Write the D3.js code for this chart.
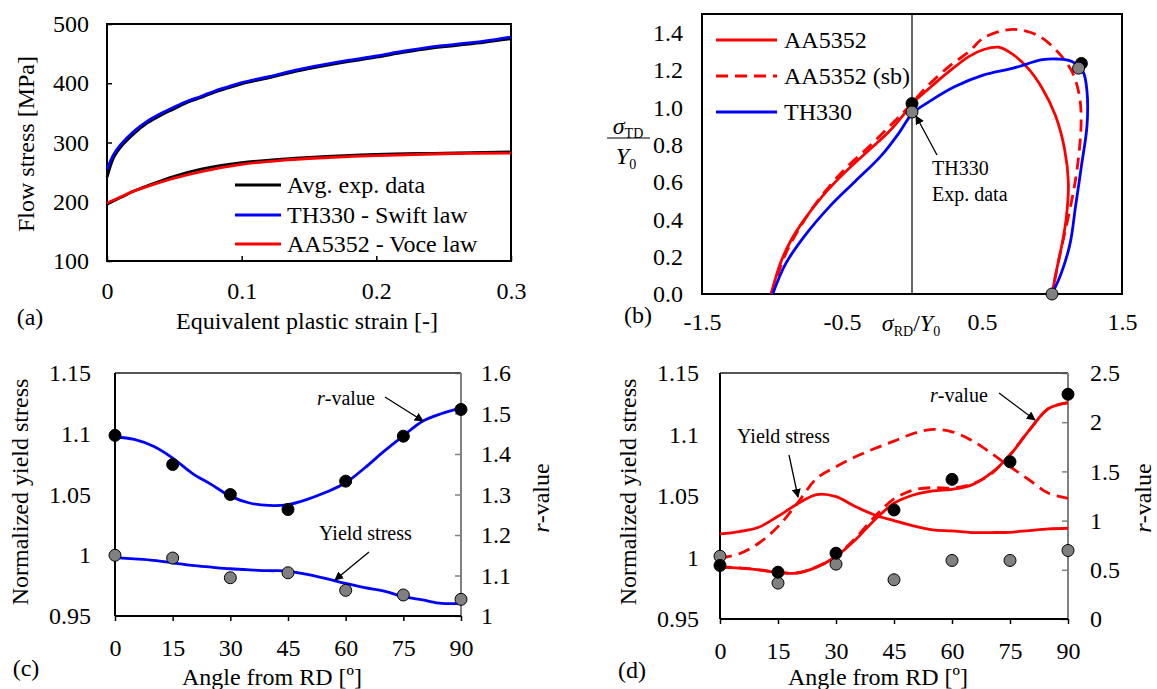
<!DOCTYPE html>
<html>
<head>
<meta charset="utf-8">
<script src="https://cdn.jsdelivr.net/npm/d3@7"></script>
<style>
  body { margin: 0; background: #fff; }
  svg text { font-family: "Liberation Serif", "Times New Roman", serif; fill: #000; }
</style>
</head>
<body>
<svg id="fig" width="1157" height="689"></svg>
<script>
// ---- panel (a): flow curves [strain, MPa]
const th330Exp = [[0, 241], [0.005, 275], [0.01, 292], [0.02, 315], [0.03, 333], [0.04, 346], [0.05, 357], [0.06, 368], [0.07, 376], [0.08, 385], [0.09, 392], [0.1, 399], [0.12, 409], [0.14, 420], [0.16, 429], [0.18, 437], [0.2, 444], [0.22, 452], [0.24, 459], [0.26, 464], [0.28, 469], [0.3, 475]];
const th330Swift = [[0, 255], [0.005, 280], [0.01, 296], [0.02, 319], [0.03, 336], [0.04, 349], [0.05, 360], [0.06, 370], [0.07, 378], [0.08, 387], [0.09, 394], [0.1, 401], [0.12, 411], [0.14, 422], [0.16, 431], [0.18, 439], [0.2, 446], [0.22, 454], [0.24, 461], [0.26, 466], [0.28, 471], [0.3, 478]];
const aa5352Exp = [[0, 196], [0.01, 207], [0.02, 218], [0.03, 227], [0.05, 243], [0.07, 255], [0.1, 266], [0.13, 272], [0.15, 275], [0.2, 280], [0.25, 282], [0.3, 284]];
const aa5352Voce = [[0, 198], [0.01, 208], [0.02, 218], [0.03, 226], [0.05, 240], [0.07, 251], [0.1, 263], [0.13, 270], [0.15, 273], [0.2, 278], [0.25, 281], [0.3, 282]];
const legendA = ['Avg. exp. data', 'TH330 - Swift law', 'AA5352 - Voce law'];

// ---- panel (b): yield loci [sigma_RD/Y0, sigma_TD/Y0]
const locusAA = [[-1.006, 0], [-0.942, 0.161], [-0.864, 0.288], [-0.772, 0.396], [-0.641, 0.523], [-0.483, 0.649], [-0.326, 0.758], [-0.169, 0.866], [-0.064, 0.957], [0.001, 1.02], [0.12, 1.10], [0.25, 1.183], [0.408, 1.273], [0.513, 1.31], [0.618, 1.322], [0.723, 1.282], [0.828, 1.21], [0.932, 1.10], [1.024, 0.957], [1.09, 0.776], [1.117, 0.595], [1.103, 0.414], [1.077, 0.288], [1.037, 0.143], [1.0, 0]];
const locusAAsb = [[-1.006, 0], [-0.903, 0.215], [-0.798, 0.36], [-0.667, 0.505], [-0.483, 0.667], [-0.3, 0.794], [-0.142, 0.912], [-0.024, 1.002], [0.093, 1.101], [0.25, 1.21], [0.408, 1.30], [0.513, 1.373], [0.67, 1.414], [0.776, 1.414], [0.907, 1.382], [1.037, 1.30], [1.142, 1.192], [1.195, 1.065], [1.208, 0.92], [1.182, 0.685], [1.142, 0.505], [1.09, 0.324], [1.037, 0.143], [1.0, 0]];
const locusTH = [[-0.995, 0], [-0.903, 0.161], [-0.772, 0.306], [-0.589, 0.468], [-0.405, 0.604], [-0.221, 0.74], [-0.09, 0.866], [0.001, 0.966], [0.12, 1.029], [0.303, 1.11], [0.513, 1.174], [0.723, 1.21], [0.932, 1.255], [1.037, 1.259], [1.142, 1.246], [1.221, 1.192], [1.25, 1.084], [1.25, 0.902], [1.21, 0.685], [1.168, 0.468], [1.129, 0.27], [1.064, 0.107], [1.0, 0]];
const expBlack = [[0, 1.02], [1.21, 1.235]];
const expGray = [[0, 0.975], [1.19, 1.21], [1.0, 0]];
const legendB = ['AA5352', 'AA5352 (sb)', 'TH330'];

// ---- panels (c) and (d): directional properties
const angles = [0, 15, 30, 45, 60, 75, 90];
const curveAngles = [0, 5, 10, 15, 20, 25, 30, 35, 40, 45, 50, 55, 60, 65, 70, 75, 80, 85, 90];
const angleTicks = [0, 15, 30, 45, 60, 75, 90];

const cRExp = [1.446, 1.374, 1.30, 1.263, 1.333, 1.444, 1.51];
const cYExp = [1.0, 0.9977, 0.9815, 0.9856, 0.9711, 0.9673, 0.9637];
const cRCurve = [1.442, 1.436, 1.419, 1.39, 1.353, 1.325, 1.296, 1.279, 1.273, 1.275, 1.288, 1.306, 1.329, 1.366, 1.407, 1.445, 1.481, 1.50, 1.514];
const cYCurve = [0.998, 0.997, 0.9958, 0.9938, 0.9916, 0.9902, 0.9889, 0.988, 0.9873, 0.987, 0.9842, 0.9807, 0.9768, 0.9733, 0.9705, 0.9659, 0.9632, 0.9604, 0.9604];

const dRExp = [0.544, 0.476, 0.669, 1.108, 1.419, 1.598, 2.284];
const dYExp = [1.001, 0.9792, 0.9946, 0.9819, 0.9976, 0.9976, 1.0057];
const dYCurve = [1.0192, 1.0211, 1.0246, 1.0335, 1.0435, 1.0512, 1.0495, 1.0414, 1.0346, 1.030, 1.0257, 1.0224, 1.0216, 1.0203, 1.0203, 1.0205, 1.0219, 1.0232, 1.0238];
const dYCurveSb = [0.9995, 1.003, 1.0116, 1.0251, 1.044, 1.0643, 1.0738, 1.0819, 1.0886, 1.0946, 1.1008, 1.1041, 1.1022, 1.0954, 1.0851, 1.0738, 1.063, 1.0522, 1.0481];
const dRCurve = [0.527, 0.517, 0.50, 0.473, 0.466, 0.527, 0.635, 0.804, 1.007, 1.176, 1.26, 1.301, 1.318, 1.361, 1.48, 1.666, 1.919, 2.139, 2.196];
const dRCurveSb = [0.53, 0.52, 0.50, 0.475, 0.47, 0.53, 0.64, 0.82, 1.04, 1.22, 1.31, 1.335, 1.33, 1.37, 1.47, 1.67, 1.92, 2.14, 2.20];

const FS = 24;
const BLUE = '#0000ff', RED = '#ff0000', GRAY = '#808080';

const svg = d3.select('#fig');
svg.append('defs').append('marker')
    .attr('id', 'arrow')
    .attr('viewBox', '0 0 10 10')
    .attr('refX', 9).attr('refY', 5)
    .attr('markerWidth', 9).attr('markerHeight', 9)
    .attr('markerUnits', 'userSpaceOnUse')
    .attr('orient', 'auto')
    .append('path').attr('d', 'M0,0 L10,5 L0,10 z').attr('fill', '#000');

const styleAxis = (g, col) => {
    g.select('.domain').remove();
    g.selectAll('text').attr('font-size', FS).attr('fill', '#000');
    g.selectAll('line').attr('stroke', col || '#000').attr('stroke-width', 1.5);
};

const text = (x, y, str, size, anchor) => svg.append('text')
    .attr('x', x).attr('y', y)
    .attr('font-size', size || FS)
    .attr('text-anchor', anchor || 'middle')
    .attr('dominant-baseline', 'central')
    .text(str);

const vtitle = (x, y) => svg.append('text')
    .attr('transform', `translate(${x},${y}) rotate(-90)`)
    .attr('font-size', FS)
    .attr('text-anchor', 'middle')
    .attr('dominant-baseline', 'central');

const arrow = (x1, y1, x2, y2) => svg.append('line')
    .attr('x1', x1).attr('y1', y1).attr('x2', x2).attr('y2', y2)
    .attr('stroke', '#000').attr('stroke-width', 1.3)
    .attr('marker-end', 'url(#arrow)');

const drawLine = (data, x, y, col, dash) => svg.append('path')
    .datum(data)
    .attr('fill', 'none')
    .attr('stroke', col)
    .attr('stroke-width', 2.8)
    .attr('stroke-dasharray', dash || null)
    .attr('d', d3.line().x(d => x(d[0])).y(d => y(d[1])).curve(d3.curveCatmullRom));

const drawDots = (data, x, y, fill) => svg.append('g')
    .selectAll('circle').data(data).join('circle')
    .attr('cx', d => x(d[0])).attr('cy', d => y(d[1]))
    .attr('r', 6)
    .attr('fill', fill).attr('stroke', '#000').attr('stroke-width', 1);

// ================= (a)
const xA = d3.scaleLinear().domain([0, 0.3]).range([107, 511]);
const yA = d3.scaleLinear().domain([100, 500]).range([261, 24]);

svg.append('g').attr('transform', 'translate(0,261)')
    .call(d3.axisBottom(xA).tickValues([0, 0.1, 0.2, 0.3]).tickFormat(d3.format('')).tickSizeInner(-5).tickSizeOuter(0).tickPadding(21))
    .call(styleAxis);
svg.append('g').attr('transform', 'translate(107,0)')
    .call(d3.axisLeft(yA).tickValues([100, 200, 300, 400, 500]).tickSizeInner(-5).tickSizeOuter(0).tickPadding(18))
    .call(styleAxis);
svg.append('rect').attr('x', 107).attr('y', 24).attr('width', 404).attr('height', 237)
    .attr('fill', 'none').attr('stroke', '#000').attr('stroke-width', 2);

drawLine(th330Exp, xA, yA, '#000');
drawLine(th330Swift, xA, yA, BLUE);
drawLine(aa5352Exp, xA, yA, '#000');
drawLine(aa5352Voce, xA, yA, RED);

const legA = svg.append('g');
[['#000', 185], [BLUE, 215], [RED, 244]].forEach((c, i) => {
    legA.append('line').attr('x1', 235).attr('x2', 281).attr('y1', c[1]).attr('y2', c[1])
        .attr('stroke', c[0]).attr('stroke-width', 2.8);
    text(287, c[1], legendA[i], FS, 'start');
});

vtitle(26, 144).text('Flow stress [MPa]');
text(307, 321, 'Equivalent plastic strain [-]');
text(30, 317, '(a)');

// ================= (b)
const xB = d3.scaleLinear().domain([-1.5, 1.5]).range([702, 1122]);
const yB = d3.scaleLinear().domain([0, 1.5]).range([294, 14]);

svg.append('g').attr('transform', 'translate(0,294)')
    .call(d3.axisBottom(xB).tickValues([-1.5, -0.5, 0.5, 1.5]).tickFormat(d => d.toFixed(1)).tickSize(0).tickPadding(19))
    .call(styleAxis);
svg.append('g').attr('transform', 'translate(702,0)')
    .call(d3.axisLeft(yB).tickValues([0, 0.2, 0.4, 0.6, 0.8, 1.0, 1.2, 1.4]).tickFormat(d => d.toFixed(1)).tickSize(0).tickPadding(19))
    .call(styleAxis);
svg.append('line').attr('x1', xB(0)).attr('x2', xB(0)).attr('y1', yB(0)).attr('y2', yB(1.5))
    .attr('stroke', '#333').attr('stroke-width', 1.5);
svg.append('rect').attr('x', 702).attr('y', 14).attr('width', 420).attr('height', 280)
    .attr('fill', 'none').attr('stroke', '#000').attr('stroke-width', 2);

drawLine(locusAAsb, xB, yB, RED, '12,7');
drawLine(locusAA, xB, yB, RED);
drawLine(locusTH, xB, yB, BLUE);
drawDots(expBlack, xB, yB, '#000');
drawDots(expGray, xB, yB, GRAY);

[[RED, null, 40], [RED, '12,7', 76], [BLUE, null, 112]].forEach((c, i) => {
    svg.append('line').attr('x1', 716).attr('x2', 777).attr('y1', c[2]).attr('y2', c[2])
        .attr('stroke', c[0]).attr('stroke-width', 2.8).attr('stroke-dasharray', c[1]);
    text(784, c[2], legendB[i], FS, 'start');
});

arrow(937, 155, 916, 116);
text(932, 168, 'TH330', 20, 'start');
text(932, 194, 'Exp. data', 20, 'start');

const titleB = svg.append('text').attr('x', 911).attr('y', 331).attr('font-size', FS).attr('text-anchor', 'middle');
titleB.append('tspan').attr('font-style', 'italic').text('σ');
titleB.append('tspan').attr('font-size', 14).attr('dy', 5).text('RD');
titleB.append('tspan').attr('dy', -5).text('/');
titleB.append('tspan').attr('font-style', 'italic').text('Y');
titleB.append('tspan').attr('font-size', 14).attr('dy', 5).text('0');

const num = svg.append('text').attr('x', 628).attr('y', 134).attr('font-size', FS).attr('text-anchor', 'middle');
num.append('tspan').attr('font-style', 'italic').text('σ');
num.append('tspan').attr('font-size', 14).attr('dy', 4).text('TD');
svg.append('line').attr('x1', 607).attr('x2', 650).attr('y1', 138).attr('y2', 138).attr('stroke', '#000').attr('stroke-width', 1.2);
const den = svg.append('text').attr('x', 626).attr('y', 164).attr('font-size', FS).attr('text-anchor', 'middle');
den.append('tspan').attr('font-style', 'italic').text('Y');
den.append('tspan').attr('font-size', 14).attr('dy', 5).text('0');

text(638, 315, '(b)');

// ================= (c) and (d)
const anglePanel = (p) => {
    const x = d3.scaleLinear().domain([0, 90]).range([p.left, p.right]);
    const yL = d3.scaleLinear().domain([0.95, 1.15]).range([p.bottom, p.top]);
    const yR = d3.scaleLinear().domain(p.rDomain).range([p.bottom, p.top]);

    svg.append('g').attr('transform', `translate(0,${p.bottom})`)
        .call(d3.axisBottom(x).tickValues(angleTicks).tickSizeInner(5).tickSizeOuter(0).tickPadding(18))
        .call(styleAxis);
    svg.append('g').attr('transform', `translate(${p.left},0)`)
        .call(d3.axisLeft(yL).tickValues([0.95, 1, 1.05, 1.1, 1.15]).tickFormat(d3.format('')).tickSize(0).tickPadding(p.padL))
        .call(styleAxis);
    svg.append('g').attr('transform', `translate(${p.right},0)`)
        .call(d3.axisRight(yR).tickValues(p.rTicks).tickFormat(d3.format('')).tickSizeInner(-6).tickSizeOuter(0).tickPadding(p.padR))
        .call(g => styleAxis(g, GRAY));

    const frame = svg.append('g').attr('stroke-width', 2);
    frame.append('line').attr('x1', p.left).attr('x2', p.right).attr('y1', p.top).attr('y2', p.top).attr('stroke', '#555');
    frame.append('line').attr('x1', p.right).attr('x2', p.right).attr('y1', p.top).attr('y2', p.bottom).attr('stroke', GRAY);
    frame.append('line').attr('x1', p.left).attr('x2', p.left).attr('y1', p.top).attr('y2', p.bottom).attr('stroke', '#000');
    frame.append('line').attr('x1', p.left).attr('x2', p.right).attr('y1', p.bottom).attr('y2', p.bottom).attr('stroke', '#000');

    p.lines.forEach(l => drawLine(d3.zip(curveAngles, l.values), x, l.axis === 'r' ? yR : yL, p.color, l.dash));
    drawDots(d3.zip(angles, p.yExp), x, yL, GRAY);
    drawDots(d3.zip(angles, p.rExp), x, yR, '#000');

    vtitle(p.titleLX, 492).text('Normalized yield stress');
    const rt = vtitle(p.titleRX, 498);
    rt.append('tspan').attr('font-style', 'italic').text('r');
    rt.append('tspan').text('-value');
    text((p.left + p.right) / 2 + p.titleShift, 677, 'Angle from RD [º]');
    text(p.tagX, p.tagY, p.tag);
};

anglePanel({
    left: 115, right: 461, top: 373, bottom: 616,
    rDomain: [1, 1.6], rTicks: [1, 1.1, 1.2, 1.3, 1.4, 1.5, 1.6],
    padL: 24, padR: 20, color: BLUE,
    lines: [{ values: cRCurve, axis: 'r' }, { values: cYCurve, axis: 'y' }],
    yExp: cYExp, rExp: cRExp,
    titleLX: 20, titleRX: 541, titleShift: -16, tag: '(c)', tagX: 26, tagY: 668
});

anglePanel({
    left: 720, right: 1068, top: 373, bottom: 619,
    rDomain: [0, 2.5], rTicks: [0, 0.5, 1, 1.5, 2, 2.5],
    padL: 21, padR: 22, color: RED,
    lines: [
        { values: dYCurveSb, axis: 'y', dash: '12,7' },
        { values: dRCurveSb, axis: 'r', dash: '12,7' },
        { values: dYCurve, axis: 'y' },
        { values: dRCurve, axis: 'r' }
    ],
    yExp: dYExp, rExp: dRExp,
    titleLX: 628, titleRX: 1143, titleShift: -16, tag: '(d)', tagX: 632, tagY: 670
});

// annotations (c)
const rv1 = svg.append('text').attr('x', 317).attr('y', 398).attr('font-size', 20).attr('dominant-baseline', 'central');
rv1.append('tspan').attr('font-style', 'italic').text('r');
rv1.append('tspan').text('-value');
arrow(385, 397, 423, 421);
text(319, 533, 'Yield  stress', 20, 'start');
arrow(369, 552, 335, 580);

// annotations (d)
const rv2 = svg.append('text').attr('x', 930).attr('y', 395).attr('font-size', 20).attr('dominant-baseline', 'central');
rv2.append('tspan').attr('font-style', 'italic').text('r');
rv2.append('tspan').text('-value');
arrow(999, 393, 1035, 420);
text(737, 436, 'Yield  stress', 20, 'start');
arrow(789, 455, 798, 497);
</script>
</body>
</html>
